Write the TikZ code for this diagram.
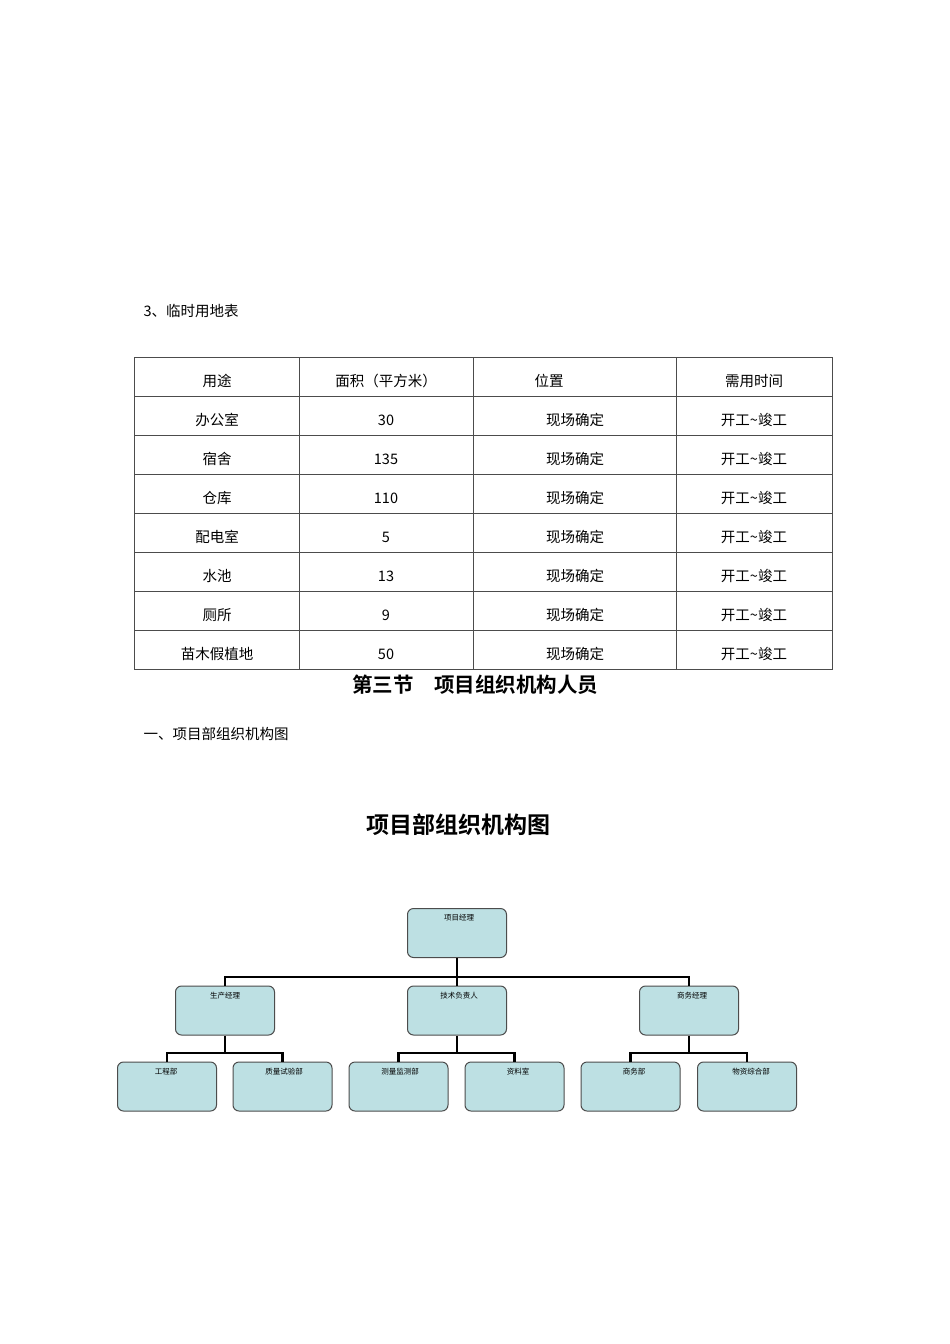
\documentclass[tikz,border=0pt]{standalone}
\usepackage{fontspec}
\setmainfont{Noto Sans CJK SC}
\newfontfamily\cjkb{Noto Sans CJK SC Bold}
\begin{document}
\begin{tikzpicture}[x=1pt,y=-1pt,
  cell/.style={font=\fontsize{14.5}{16}\selectfont},
  ob/.style={draw=black!70,fill=orgfill,rounded corners=6pt,line width=1pt,minimum width=99pt,minimum height=49pt,inner sep=0pt},
  ot/.style={font=\fontsize{7.5}{8}\selectfont},
  conn/.style={line width=2.6pt}]
\definecolor{orgfill}{HTML}{BDE0E3}
\useasboundingbox (0,0) rectangle (950,1344);
\fill[white] (0,0) rectangle (950,1344);
\node[cell,anchor=west] (t3) at (140,311) {3、临时用地表};
% table
\draw[black!70,line width=0.8pt] (134,357) rectangle (832,669);
\foreach \x in {299,473,676} \draw[black!70,line width=0.8pt] (\x,357) -- (\x,669);
\foreach \y in {396,435,474,513,552,591,630} \draw[black!70,line width=0.8pt] (134,\y) -- (832,\y);
\node[cell] (h1) at (217,381) {用途};
\node[cell] (h2) at (386,381) {面积（平方米）};
\node[cell] (h3) at (549,381) {位置};
\node[cell] (h4) at (754,381) {需用时间};
\foreach \a/\b [count=\i] in {办公室/30,宿舍/135,仓库/110,配电室/5,水池/13,厕所/9,苗木假植地/50}{
  \pgfmathsetmacro\yy{381+39*\i}
  \node[cell] (r\i a) at (217,\yy) {\a};
  \node[cell] (r\i b) at (386,\yy) {\b};
  \node[cell] (r\i c) at (575,\yy) {现场确定};
  \node[cell] (r\i d) at (754,\yy) {开工\textasciitilde 竣工};
}
\node[font=\cjkb\fontsize{20.5}{22}\selectfont] (sec) at (475,685) {第三节\hspace{1em}项目组织机构人员};
\node[cell,anchor=west] (s1) at (140,734) {一、项目部组织机构图};
\node[font=\cjkb\fontsize{23}{25}\selectfont] (ct) at (458,825) {项目部组织机构图};
% org chart
\node[ob] (pm) at (457,933) {};
\node[ob] (m1) at (225,1010.5) {};
\node[ob] (m2) at (457,1010.5) {};
\node[ob] (m3) at (689,1010.5) {};
\foreach \n/\x in {b1/167,b2/282.5,b3/398.5,b4/514.5,b5/630.5,b6/747}
  \node[ob] (\n) at (\x,1086.5) {};
\node[ot] (pmt) at (459,918) {项目经理};
\node[ot] (m1t) at (225,996) {生产经理};
\node[ot] (m2t) at (459,996) {技术负责人};
\node[ot] (m3t) at (692,996) {商务经理};
\node[ot] (b1t) at (166,1072) {工程部};
\node[ot] (b2t) at (284,1072) {质量试验部};
\node[ot] (b3t) at (400,1072) {测量监测部};
\node[ot] (b4t) at (518,1072) {资料室};
\node[ot] (b5t) at (634,1072) {商务部};
\node[ot] (b6t) at (751,1072) {物资综合部};
\draw[conn] (pm.south) -- (m2.north);
\draw[conn] (m1.north) |- (457,977) -| (m3.north);
\draw[conn] (m1.south) -- (225,1053);
\draw[conn] (b1.north) |- (225,1053) -| (b2.north);
\draw[conn] (m2.south) -- (457,1053);
\draw[conn] (b3.north) |- (457,1053) -| (b4.north);
\draw[conn] (m3.south) -- (689,1053);
\draw[conn] (b5.north) |- (689,1053) -| (b6.north);
\end{tikzpicture}
\end{document}
